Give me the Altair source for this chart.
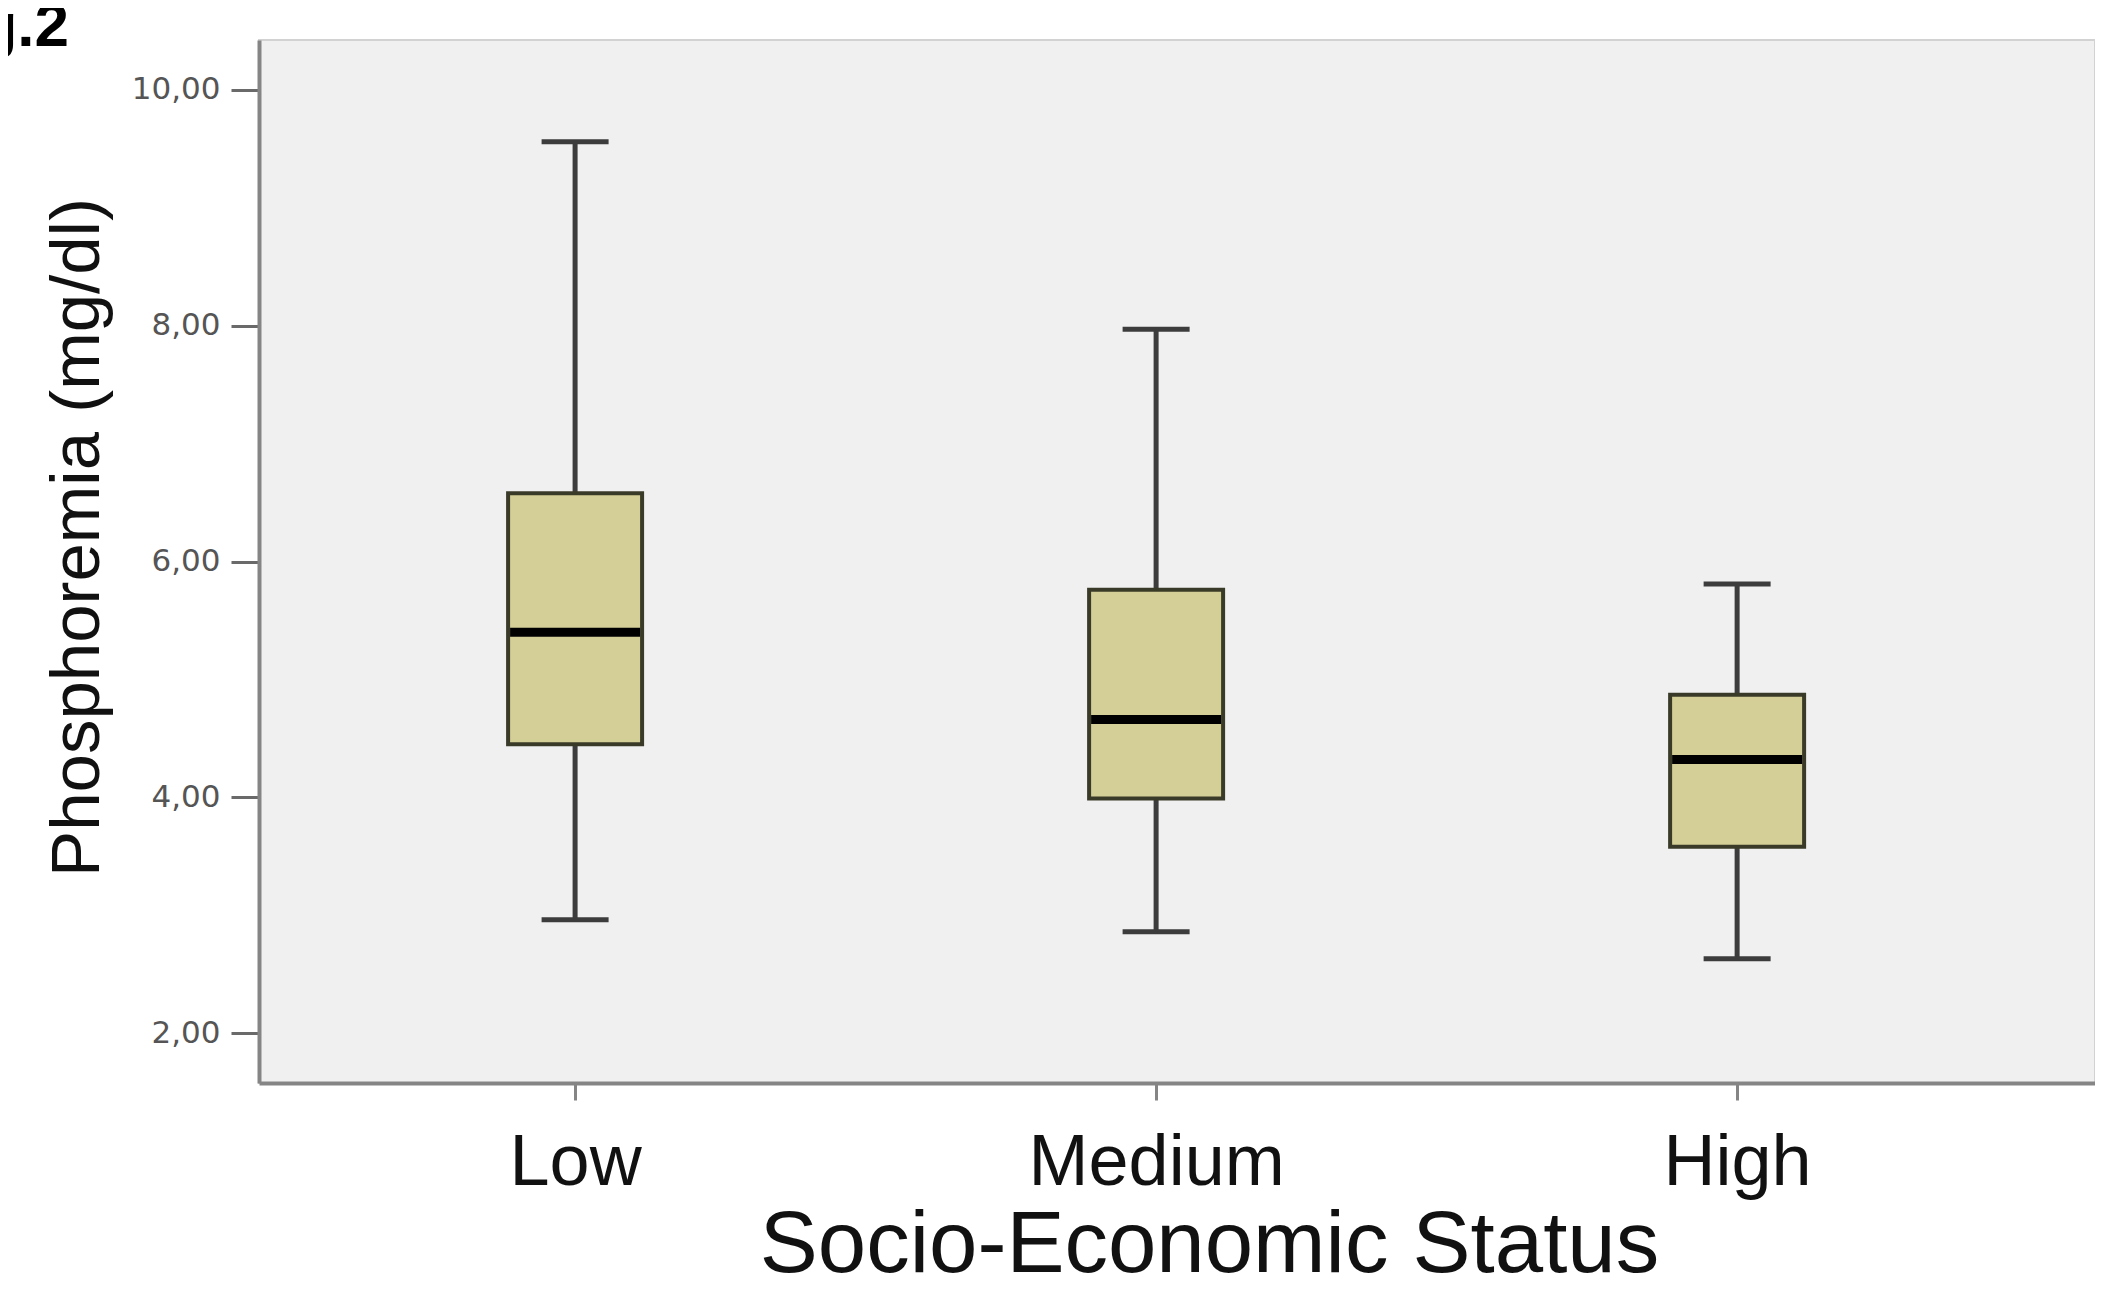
import altair as alt
import pandas as pd

# ---- data ----
categories = ["Low", "Medium", "High"]
whisker_low = [2.96, 2.86, 2.63]
q1 = [4.45, 3.99, 3.58]
median = [5.40, 4.66, 4.32]
q3 = [6.58, 5.76, 4.87]
whisker_high = [9.56, 7.97, 5.81]
y_ticks = [2, 4, 6, 8, 10]
y_domain = [1.576, 10.424]
fig_label = ["Fig.2"]

df = pd.DataFrame({
    "cat": categories,
    "lo": whisker_low,
    "q1": q1,
    "med": median,
    "q3": q3,
    "hi": whisker_high,
})

BOX_FILL = "#d4cf97"
BOX_STROKE = "#3a3a28"
WHISKER = "#3c3c3c"
AXIS_GRAY = "#858585"

x_enc = alt.X(
    "cat:N",
    sort=categories,
    scale=alt.Scale(type="point", padding=0.58, align=0.469),
    axis=alt.Axis(
        title="Socio-Economic Status",
        labelAngle=0,
        labelLimit=0,
        labelFont="Liberation Sans",
        labelFontSize=72,
        labelColor="#111111",
        labelPadding=27,
        tickSize=17,
        tickWidth=3,
        tickColor=AXIS_GRAY,
        domainColor=AXIS_GRAY,
        domainWidth=4,
        titleFont="Liberation Sans",
        titleFontSize=87,
        titleFontWeight="normal",
        titleColor="#111111",
        titleBaseline="alphabetic",
        titleLimit=0,
        titleY=188,
        titleX=950,
    ),
)

y_axis = alt.Axis(
    title="Phosphoremia (mg/dl)",
    values=y_ticks,
    labelExpr="replace(format(datum.value, '.2f'), '.', ',')",
    labelFont="DejaVu Sans",
    labelFontSize=31,
    labelColor="#555555",
    labelPadding=11,
    tickSize=28,
    tickWidth=3,
    tickColor="#6a6a6a",
    domainColor=AXIS_GRAY,
    domainWidth=4,
    grid=False,
    titleFont="Liberation Sans",
    titleFontSize=69,
    titleFontWeight="normal",
    titleColor="#111111",
    titleAngle=270,
    titleAlign="center",
    titleBaseline="middle",
    titleLimit=0,
    titleX=-182,
    titleY=497,
)
y_scale = alt.Scale(domain=y_domain, nice=False, zero=False)

base = alt.Chart(df).encode(x=x_enc)

lower_whisker = base.mark_rule(color=WHISKER, strokeWidth=5).encode(
    y=alt.Y("lo:Q", scale=y_scale, axis=y_axis), y2="q1:Q"
)
upper_whisker = base.mark_rule(color=WHISKER, strokeWidth=5).encode(
    y=alt.Y("q3:Q", scale=y_scale), y2="hi:Q"
)
cap_low = base.mark_tick(color=WHISKER, thickness=5, size=67, opacity=1).encode(
    y=alt.Y("lo:Q", scale=y_scale)
)
cap_high = base.mark_tick(color=WHISKER, thickness=5, size=67, opacity=1).encode(
    y=alt.Y("hi:Q", scale=y_scale)
)
box = base.mark_bar(
    fill=BOX_FILL, stroke=BOX_STROKE, strokeWidth=4, size=134, opacity=1
).encode(y=alt.Y("q1:Q", scale=y_scale), y2="q3:Q")
med = base.mark_tick(color="#000000", thickness=9, size=130, opacity=1).encode(
    y=alt.Y("med:Q", scale=y_scale)
)

fig_text = alt.Chart(pd.DataFrame({"t": fig_label})).mark_text(
    font="Liberation Sans",
    fontSize=62,
    fontWeight="bold",
    align="right",
    baseline="alphabetic",
    color="#000000",
).encode(text="t:N", x=alt.value(-190), y=alt.value(6))

chart = (
    alt.layer(lower_whisker, upper_whisker, cap_low, cap_high, box, med, fig_text)
    .properties(
        width=1836,
        height=1043,
        autosize=alt.AutoSizeParams(type="none"),
        padding={"left": 251, "top": 32, "right": 0, "bottom": 207},
        background="#ffffff",
    )
    .configure_view(fill="#f0f0f0", stroke="#d2d2d2", strokeWidth=2)
)

chart.save("out.html", embed_options={"renderer": "svg", "actions": False})
